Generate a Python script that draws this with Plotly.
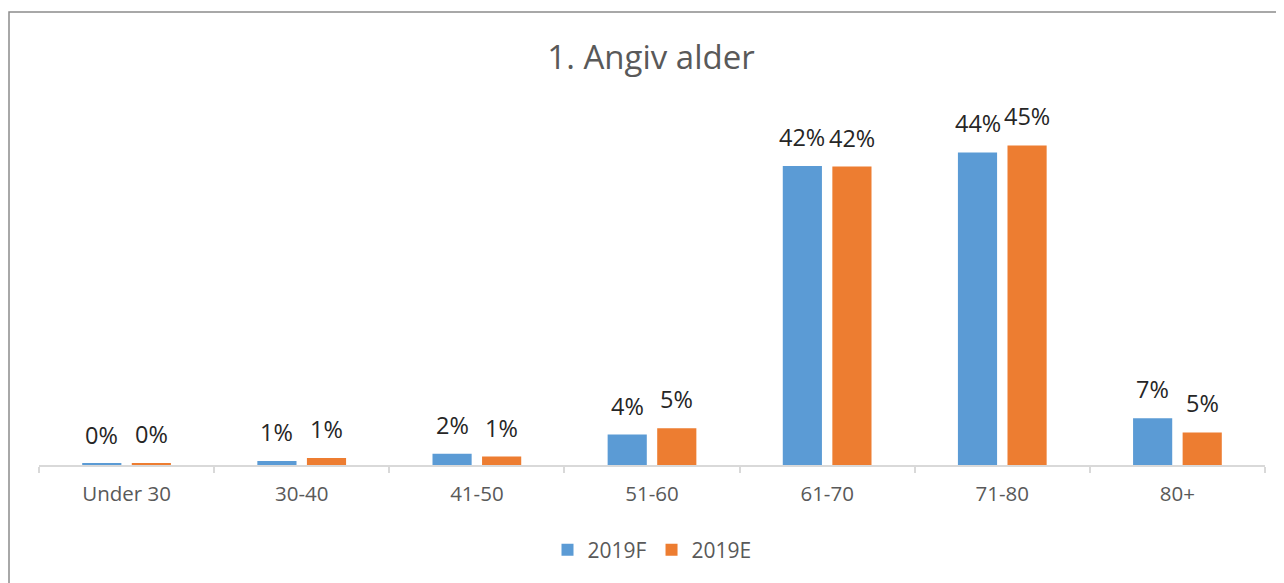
import plotly.graph_objects as go

categories = ["Under 30", "30-40", "41-50", "51-60", "61-70", "71-80", "80+"]
series_names = ["2019F", "2019E"]
values_2019F = [0.2, 0.55, 1.6, 4.3, 42.3, 44.2, 6.6]
values_2019E = [0.3, 1.0, 1.2, 5.2, 42.2, 45.2, 4.6]
labels_2019F = ["0%", "1%", "2%", "4%", "42%", "44%", "7%"]
labels_2019E = ["0%", "1%", "1%", "5%", "42%", "45%", "5%"]
title_text = "1. Angiv alder"

colors = ["#5B9BD5", "#ED7D31"]
FONT = "Open Sans"

# page body has an 8px margin; layout numbers are compensated for it
OFF = 8
W, H = 1284 - OFF, 583 - OFF
L, R = 39 - OFF, 1284 - 1265
T, B = 109 - OFF, 583 - 465
PH = H - T - B

fig = go.Figure()
for name, vals, col in zip(series_names, [values_2019F, values_2019E], colors):
    fig.add_trace(go.Bar(
        x=categories, y=vals, name=name,
        marker=dict(color=col, line=dict(width=0)),
        hoverinfo="skip",
    ))

offsets = [-24.75, 24.75]
for vals, labs, dx in zip([values_2019F, values_2019E], [labels_2019F, labels_2019E], offsets):
    for c, v, t in zip(categories, vals, labs):
        fig.add_annotation(
            x=c, y=v, xref="x", yref="y", text=t, showarrow=False,
            xshift=dx, yshift=11, yanchor="bottom",
            font=dict(family=FONT, size=23.5, color="#262626"),
        )

fig.update_layout(
    width=W, height=H,
    margin=dict(l=L, r=R, t=T, b=B, autoexpand=False),
    paper_bgcolor="white", plot_bgcolor="white",
    barmode="group", bargap=0.434, bargroupgap=0.21,
    title=dict(text=title_text, x=(651 - 39) / 1226, xref="paper", xanchor="center",
               y=1 - (57 - OFF) / H, yanchor="middle",
               font=dict(family=FONT, size=33, color="#595959")),
    showlegend=True,
    legend=dict(orientation="h", x=0.5, xanchor="center", y=(465 - 550) / PH,
                yanchor="middle", font=dict(family=FONT, size=21, color="#595959"),
                itemwidth=30, traceorder="normal"),
    xaxis=dict(showline=True, linecolor="#D9D9D9", linewidth=1.5,
               ticks="outside", tickson="boundaries", ticklen=6, tickcolor="#D9D9D9",
               tickwidth=1.5, ticklabelstandoff=10,
               tickfont=dict(family=FONT, size=20.5, color="#595959"),
               showgrid=False, zeroline=False, fixedrange=True),
    yaxis=dict(range=[0, 50.35], visible=False, showgrid=False, zeroline=False,
               fixedrange=True),
    shapes=[dict(type="rect", xref="paper", yref="paper",
                 x0=(9 - 39) / 1226, x1=1.2, y0=-0.5, y1=(465 - 12) / PH,
                 line=dict(color="#8C8C8C", width=1.5), fillcolor="rgba(0,0,0,0)",
                 layer="below")],
)

fig.write_html("out.html")
